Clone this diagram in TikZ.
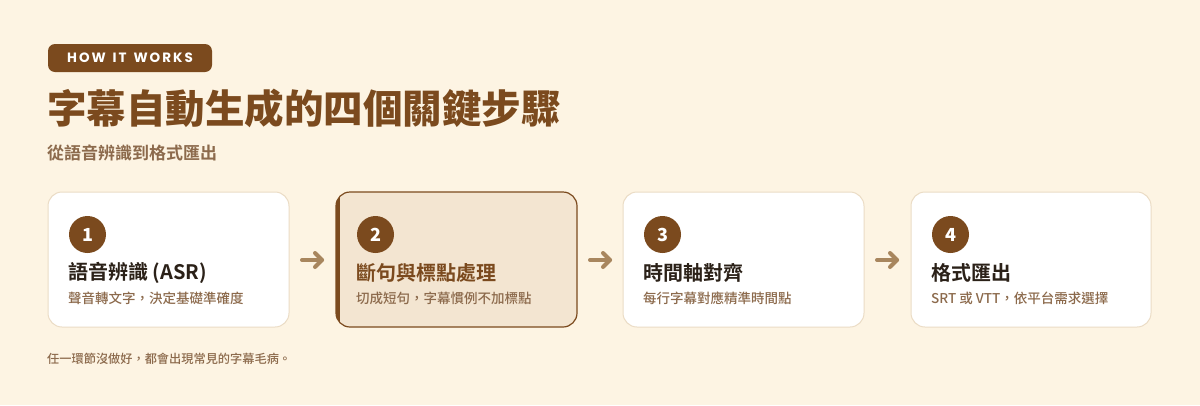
\documentclass[tikz,border=0pt]{standalone}
\usepackage{fontspec}
\setmainfont{Noto Sans CJK TC}
\newfontfamily\cjkb{Noto Sans CJK TC Bold}
\newfontfamily\cjkk{Noto Sans CJK TC Black}
\newfontfamily\cjkm{Noto Sans CJK TC Medium}
\newfontfamily\badgefont{Poppins Bold}
\usetikzlibrary{calc}
\definecolor{bgc}{HTML}{FDF4E3}
\definecolor{brownc}{HTML}{7B4A1E}
\definecolor{mutedc}{HTML}{8C6A4C}
\definecolor{darkc}{HTML}{2B2118}
\definecolor{cardline}{HTML}{EBDCC5}
\definecolor{activefill}{HTML}{F3E5D1}
\definecolor{arrowc}{HTML}{A8865E}
\newcommand\bk{\kern2pt}
\tikzset{
  card/.style={draw=cardline, line width=1pt, fill=white, rounded corners=14pt},
  activecard/.style={draw=brownc, line width=1.2pt, fill=activefill, rounded corners=14pt},
  numdot/.style={circle, fill=brownc, minimum size=37pt, inner sep=0pt, text=white, font=\cjkk\fontsize{18}{18}\selectfont},
  cardtitle/.style={anchor=west, inner sep=0pt, text=darkc, font=\cjkb\fontsize{20}{20}\selectfont},
  cardsub/.style={anchor=west, inner sep=0pt, text=mutedc, font=\cjkm\fontsize{13.5}{13.5}\selectfont},
  flow/.style={draw=arrowc, line width=4pt, line cap=round, line join=round}
}
\begin{document}
\begin{tikzpicture}[x=1pt,y=-1pt]
\fill[bgc] (0,0) rectangle (1200,405);
\useasboundingbox (0,0) rectangle (1200,405);
% badge
\fill[brownc, rounded corners=7pt] (48,44) rectangle (212,72);
\node[text=white, inner sep=0pt, font=\badgefont\fontsize{13.5}{13.5}\selectfont] (badge) at (130,58) {H\bk O\bk W\bk{} \bk I\bk T\bk{} \bk W\bk O\bk R\bk K\bk S};
% title
\node[anchor=west, inner sep=0pt, text=brownc, font=\cjkk\fontsize{39.5}{39.5}\selectfont] (title) at (47,108) {字幕自動生成的四個關鍵步驟};
\node[anchor=west, inner sep=0pt, text=mutedc, font=\cjkb\fontsize{17}{17}\selectfont] (subtitle) at (47,153) {從語音辨識到格式匯出};
% cards
\path[card] (48,192) rectangle (289,327);
\path[activecard] (336,192) rectangle (577,327);
\begin{scope}
\clip[rounded corners=14pt] (336,192) rectangle (577,327);
\fill[brownc] (336,190) rectangle (340,330);
\end{scope}
\path[card] (623,192) rectangle (864,327);
\path[card] (911,192) rectangle (1151,327);
% card contents
\node[numdot] (n1) at (87.5,234.5) {1};
\node[cardtitle] (t1) at (68,273) {語音辨識 (ASR)};
\node[cardsub] (s1) at (68,298) {聲音轉文字，決定基礎準確度};
\node[numdot] (n2) at (375.5,234.5) {2};
\node[cardtitle, text=brownc] (t2) at (356,273) {斷句與標點處理};
\node[cardsub] (s2) at (356,298) {切成短句，字幕慣例不加標點};
\node[numdot] (n3) at (662.5,234.5) {3};
\node[cardtitle] (t3) at (643,273) {時間軸對齊};
\node[cardsub] (s3) at (643,298) {每行字幕對應精準時間點};
\node[numdot] (n4) at (950.5,234.5) {4};
\node[cardtitle] (t4) at (931,273) {格式匯出};
\node[cardsub] (s4) at (931,298) {SRT 或 VTT，依平台需求選擇};
% arrows
\coordinate (a1s) at (302,260); \coordinate (a1e) at (322,260);
\coordinate (a2s) at (590,260); \coordinate (a2e) at (610,260);
\coordinate (a3s) at (877,260); \coordinate (a3e) at (897,260);
\foreach \s/\e in {a1s/a1e,a2s/a2e,a3s/a3e}{
  \draw[flow] (\s) -- (\e);
  \draw[flow] ($(\e)+(-7,-7)$) -- (\e) -- ($(\e)+(-7,7)$);
}
% footer
\node[anchor=west, inner sep=0pt, text=mutedc, font=\cjkm\fontsize{12.2}{12.2}\selectfont] (footer) at (47,358.5) {任一環節沒做好，都會出現常見的字幕毛病。};
\end{tikzpicture}
\end{document}
